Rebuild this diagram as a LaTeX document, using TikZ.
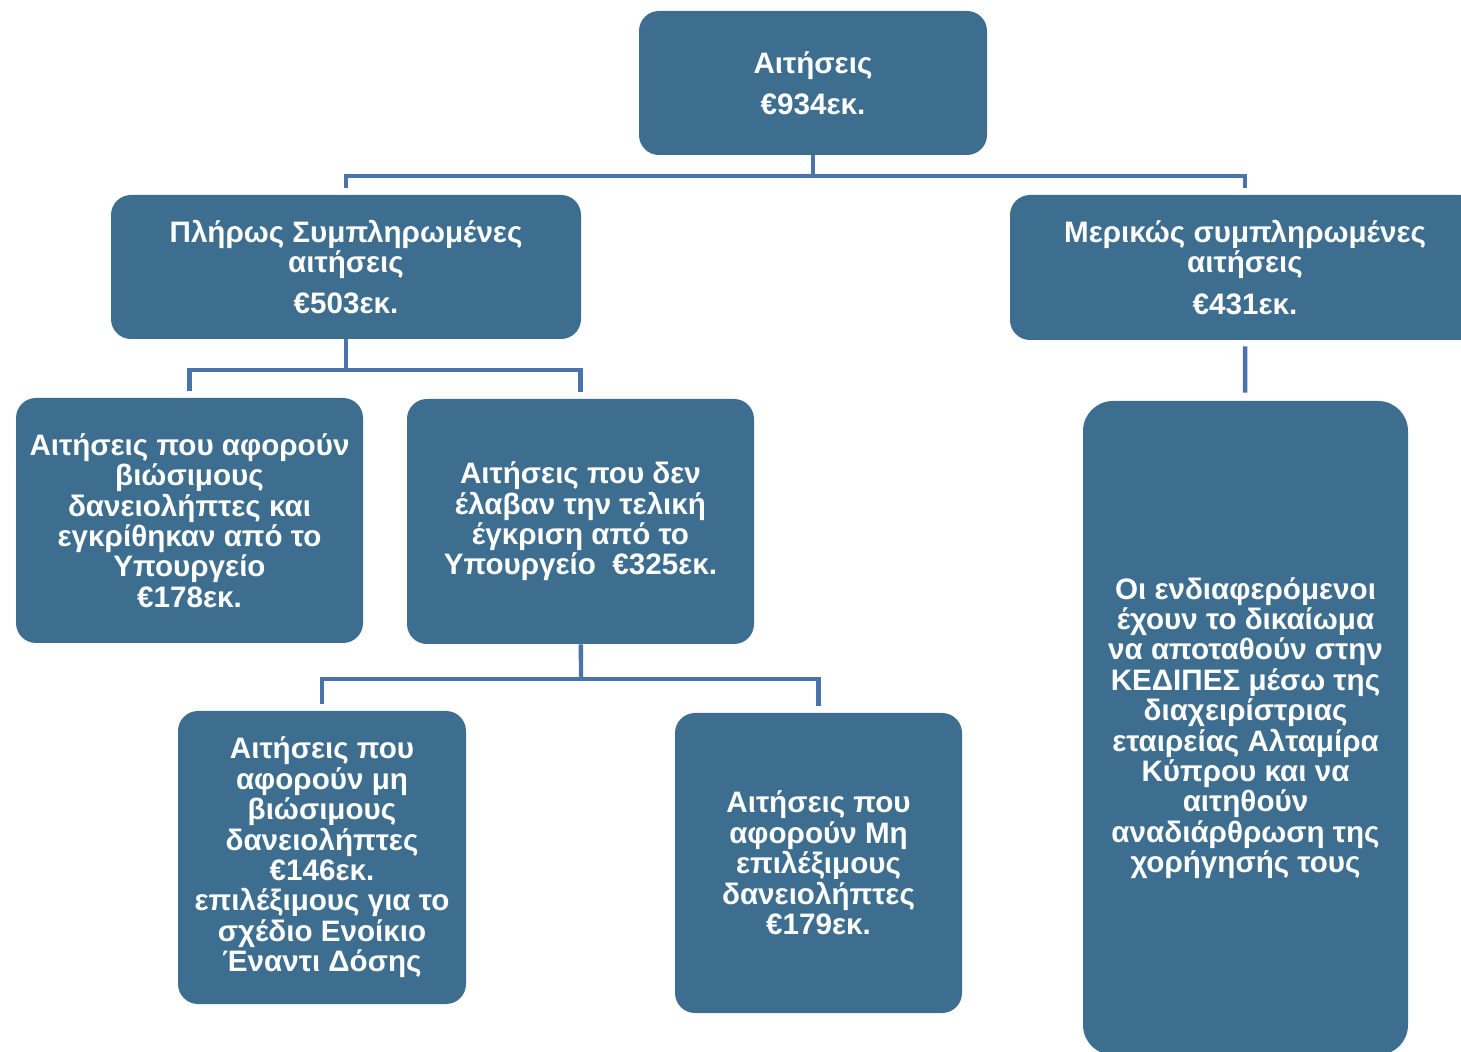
\documentclass[tikz,border=0pt]{standalone}
\usepackage{fontspec}
\setmainfont{Liberation Sans}
\usetikzlibrary{positioning}
\definecolor{boxblue}{RGB}{61,110,143}
\definecolor{lineblue}{RGB}{74,115,171}

\begin{document}
\begin{tikzpicture}[x=0.5pt, y=-0.5pt,
        box/.style={rectangle, rounded corners=10pt, fill=boxblue, text=white, align=center, inner sep=2pt, font=\fontsize{14.8}{15.2}\selectfont\bfseries},
        line/.style={-, draw=lineblue, line width=2.2pt},
        gap/.style={shorten >=3.5pt}
    ]
        \useasboundingbox (0,0) rectangle (1461,1052);

        % Top level
        \node[box, minimum width=174pt, minimum height=72pt] (all) at (813,83) {Αιτήσεις\\[5.5pt]€934εκ.};

        % Second level
        \node[box, minimum width=235pt, minimum height=72pt] (full) at (346,267) {Πλήρως Συμπληρωμένες\\αιτήσεις\\[5.5pt]€503εκ.};
        \node[box, minimum width=235pt, minimum height=72.5pt] (part) at (1245,267.5) {Μερικώς συμπληρωμένες\\αιτήσεις\\[5.5pt]€431εκ.};

        % Third level
        \node[box, minimum width=173.5pt, minimum height=122.5pt] (viable) at (189.5,520.5) {Αιτήσεις που αφορούν\\βιώσιμους\\δανειολήπτες και\\εγκρίθηκαν από το\\Υπουργείο\\€178εκ.};
        \node[box, minimum width=173.5pt, minimum height=122.5pt] (pending) at (580.5,521.5) {Αιτήσεις που δεν\\έλαβαν την τελική\\έγκριση από το\\Υπουργείο\ \ €325εκ.};
        \node[box, rounded corners=15pt, minimum width=162.5pt, minimum height=327pt] (kedipes) at (1245.5,728) {Οι ενδιαφερόμενοι\\έχουν το δικαίωμα\\να αποταθούν στην\\ΚΕΔΙΠΕΣ μέσω της\\διαχειρίστριας\\εταιρείας Αλταμίρα\\Κύπρου και να\\αιτηθούν\\αναδιάρθρωση της\\χορήγησής τους};

        % Fourth level
        \node[box, minimum width=144pt, minimum height=146.5pt] (nonviable) at (322,857.5) {Αιτήσεις που\\αφορούν μη\\βιώσιμους\\δανειολήπτες\\€146εκ.\\επιλέξιμους για το\\σχέδιο Ενοίκιο\\Έναντι Δόσης};
        \node[box, minimum width=143.5pt, minimum height=150pt] (noneligible) at (818.5,863) {Αιτήσεις που\\αφορούν Μη\\επιλέξιμους\\δανειολήπτες\\€179εκ.};

        % Connectors
        \coordinate (j1) at (813,176);
        \coordinate (j2) at (346,370);
        \coordinate (j3) at (581,679);

        \draw[line] (all) -- (j1);
        \draw[line, gap] (j1) -| (full);
        \draw[line, gap] (j1) -| (part);

        \draw[line] (full) -- (j2);
        \draw[line, gap] (j2) -| (viable);
        \draw[line, gap] (j2) -| (pending);

        \draw[line] (pending) -- (j3);
        \draw[line, gap] (j3) -| (nonviable);
        \draw[line, gap] (j3) -| (noneligible);

        \draw[line, shorten <=3pt, shorten >=4pt] (part) -- (kedipes);
    \end{tikzpicture}
\end{document}
